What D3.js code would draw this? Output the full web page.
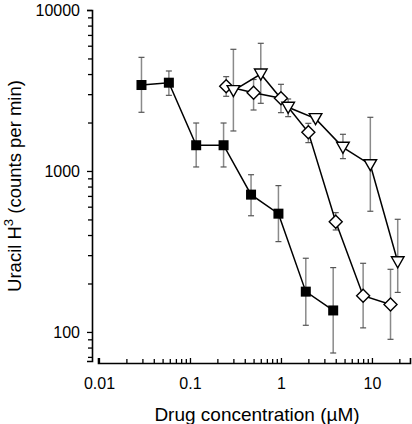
<!DOCTYPE html>
<html><head><meta charset="utf-8">
<script src="https://cdn.jsdelivr.net/npm/d3@7"></script>
<style>html,body{margin:0;padding:0;background:#fff;}svg{display:block;font-family:"Liberation Sans",Arial,sans-serif;}</style>
</head><body>
<svg id="c" width="412" height="424"></svg>
<script>
// Filled squares
const sqX  = [0.0293, 0.0586, 0.117, 0.234, 0.469, 0.938, 1.875, 3.75];
const sqY  = [3420, 3535, 1445, 1445, 713, 543, 178, 136];
const sqHi = [5080, 4180, 1986, 1986, 948, 811, 287, 251];
const sqLo = [2315, 2950, 1059, 1059, 527, 364, 110, 74];
// Open diamonds
const dmX  = [0.25, 0.5, 1, 2, 4, 8, 16];
const dmY  = [3357, 3066, 2828, 1738, 484, 168, 148];
const dmHi = [3855, 3700, 3454, 1977, 551, 267, 245];
const dmLo = [2910, 2392, 2303, 1500, 430, 106, 90];
// Open down-triangles
const trX  = [0.3, 0.6, 1.2, 2.4, 4.8, 9.6, 19.2];
const trY  = [3155, 4000, 2486, 2113, 1403, 1094, 273];
const trHi = [5700, 6210, 2800, 2200, 1690, 2155, 501];
const trLo = [1772, 2632, 2175, 2030, 1193, 562, 176];

const xMajor = [0.01, 0.1, 1, 10];
const yMajor = [100, 1000, 10000];
const xMinor = [0.02,0.03,0.04,0.05,0.06,0.07,0.08,0.09,0.2,0.3,0.4,0.5,0.6,0.7,0.8,0.9,2,3,4,5,6,7,8,9,20];
const yMinor = [70,80,90,200,300,400,500,600,700,800,900,2000,3000,4000,5000,6000,7000,8000,9000];
const xLabel = "Drug concentration (µM)";

const svg = d3.select("#c");
const x = d3.scaleLog().domain([0.00975, 26.2]).range([98, 410]);
const y = d3.scaleLog().domain([66, 10000]).range([361, 10]);

// Y axis
const yAx = svg.append("g").attr("transform","translate(92,0)");
yAx.call(d3.axisLeft(y).tickValues(yMajor).tickFormat(d3.format("d")).tickSize(5).tickPadding(7));
const yMin = svg.append("g").attr("transform","translate(92,0)");
yMin.call(d3.axisLeft(y).tickValues(yMinor).tickFormat("").tickSize(4));
yMin.select(".domain").remove();
// X axis
const xAx = svg.append("g").attr("transform","translate(0,363)");
xAx.call(d3.axisBottom(x).tickValues(xMajor).tickFormat(d => String(d)).tickSize(-5).tickPadding(15));
const xMin = svg.append("g").attr("transform","translate(0,363)");
xMin.call(d3.axisBottom(x).tickValues(xMinor).tickFormat("").tickSize(-4));
xMin.select(".domain").remove();

svg.selectAll(".domain").attr("stroke","#000").attr("stroke-width",1.6);
svg.selectAll(".tick line").attr("stroke","#000").attr("stroke-width",1.3);
svg.selectAll(".tick text").attr("font-size",16).attr("fill","#000").attr("font-family","Liberation Sans, Arial, sans-serif");
yAx.selectAll(".tick text").attr("dy","0.36em");

// Axis titles
svg.append("text").attr("x",257).attr("y",421).attr("text-anchor","middle")
  .attr("font-size",19).text(xLabel);
const yl = svg.append("text").attr("transform","translate(21,186) rotate(-90)")
  .attr("text-anchor","middle").attr("font-size",18.5);
yl.append("tspan").text("Uracil H");
yl.append("tspan").attr("font-size",13).attr("dy",-8).text("3");
yl.append("tspan").attr("dy",8).text(" (counts per min)");

function series(xs, ys, hi, lo){
  return xs.map((v,i)=>({x:v,y:ys[i],hi:hi[i],lo:lo[i]}));
}
const S = series(sqX,sqY,sqHi,sqLo), D = series(dmX,dmY,dmHi,dmLo), T = series(trX,trY,trHi,trLo);
const line = d3.line().x(d=>x(d.x)).y(d=>y(d.y));

function errs(data){
  const g = svg.append("g");
  data.forEach(d=>{
    g.append("line").attr("x1",x(d.x)).attr("x2",x(d.x)).attr("y1",y(d.hi)).attr("y2",y(d.lo))
      .attr("stroke","#8a8a8a").attr("stroke-width",1.5);
    [d.hi,d.lo].forEach(v=>g.append("line").attr("x1",x(d.x)-3).attr("x2",x(d.x)+3)
      .attr("y1",y(v)).attr("y2",y(v)).attr("stroke","#555").attr("stroke-width",1.2));
  });
}
[S,D,T].forEach(errs);
[S,D,T].forEach(data=>svg.append("path").datum(data).attr("d",line)
  .attr("fill","none").attr("stroke","#000").attr("stroke-width",1.5));

// Markers
svg.append("g").selectAll("rect").data(S).join("rect")
  .attr("x",d=>x(d.x)-5).attr("y",d=>y(d.y)-5).attr("width",10).attr("height",10)
  .attr("fill","#000");
svg.append("g").selectAll("path").data(D).join("path")
  .attr("d",d=>{const cx=x(d.x),cy=y(d.y),r=6.5;return `M${cx},${cy-r}L${cx+r},${cy}L${cx},${cy+r}L${cx-r},${cy}Z`;})
  .attr("fill","#fff").attr("stroke","#000").attr("stroke-width",1.4);
svg.append("g").selectAll("path").data(T).join("path")
  .attr("d",d=>{const cx=x(d.x),cy=y(d.y),w=6.3,h=5;return `M${cx-w},${cy-h}L${cx+w},${cy-h}L${cx},${cy+h+1}Z`;})
  .attr("fill","#fff").attr("stroke","#000").attr("stroke-width",1.4);
</script>
</body></html>
